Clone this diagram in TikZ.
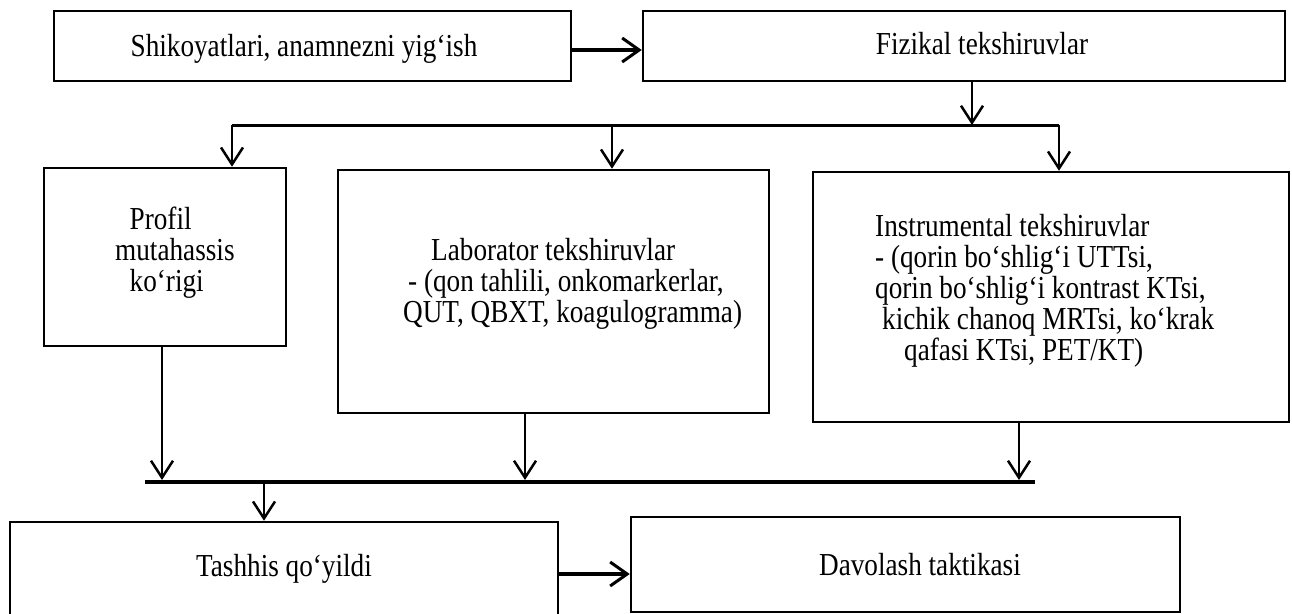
\documentclass[tikz,border=0pt]{standalone}
\usepackage{fontspec}
\setmainfont{Liberation Serif}[FakeStretch=0.85]
\usetikzlibrary{arrows.meta,calc}
\begin{document}
\begin{tikzpicture}[x=1pt,y=-1pt,
  box/.style={draw, line width=2.5pt, inner sep=0pt},
  txt/.style={inner sep=0pt, align=left, font=\fontsize{32}{31}\selectfont},
  arr/.style={line width=2.5pt, -{Straight Barb[length=17pt,width=22pt]}},
  harr/.style={line width=4.5pt, -{Straight Barb[length=17pt,width=24pt,line width=3pt]}},
  bar/.style={line width=3pt},
  thickbar/.style={line width=4.5pt}
]
\useasboundingbox (0,0) rectangle (1292,613);
\clip (0,0) rectangle (1292,613);

% boxes
\node[box, minimum width=517pt, minimum height=70pt] (b1) at (312.5,46) {};
\node[box, minimum width=642pt, minimum height=70pt] (b2) at (964,46) {};
\node[box, minimum width=242pt, minimum height=178pt] (prof) at (165,257) {};
\node[box, minimum width=431pt, minimum height=243pt] (lab) at (553.5,291.5) {};
\node[box, minimum width=476pt, minimum height=250pt] (instr) at (1051,297) {};
\node[box, minimum width=548pt, minimum height=96pt] (tash) at (284,570) {};
\node[box, minimum width=549pt, minimum height=95pt] (dav) at (905.5,564.5) {};

% texts
\node[txt, anchor=base] (tb1) at (304,56) {Shikoyatlari, anamnezni yig‘ish};
\node[txt, anchor=base] (tb2) at (982,54) {Fizikal tekshiruvlar};
\node[txt, anchor=west] (tprof) at (115,253) {\hspace*{14.5pt}Profil\\mutahassis\\\hspace*{14.5pt}ko‘rigi};
\node[txt, anchor=west] (tlab) at (403,284) {\hspace*{28pt}Laborator tekshiruvlar\\\hspace*{5pt}- (qon tahlili, onkomarkerlar,\\QUT, QBXT, koagulogramma)};
\node[txt, anchor=west] (tinstr) at (875,291) {Instrumental tekshiruvlar\\- (qorin bo‘shlig‘i UTTsi,\\qorin bo‘shlig‘i kontrast KTsi,\\\hspace*{7pt}kichik chanoq MRTsi, ko‘krak\\\hspace*{29pt}qafasi KTsi, PET/KT)};
\node[txt, anchor=base] (ttash) at (284,576) {Tashhis qo‘yildi};
\node[txt, anchor=base] (tdav) at (920,575) {Davolash taktikasi};

% junction coordinates
\coordinate (j1) at (972,125);
\coordinate (bl) at (232,125);
\coordinate (bm) at (612,125);
\coordinate (br) at (1059,125);
\coordinate (ml) at (145,482);
\coordinate (mr) at (1035,482);
\coordinate (m1) at (162,480);
\coordinate (m2) at (525,480);
\coordinate (m3) at (1019,480);
\coordinate (m0) at (264,482);
\coordinate (h1) at (571,50);
\coordinate (h2) at (558,574);

% connectors
\draw[harr] (h1) -- (b2.west |- h1);
\draw[arr] (b2.south -| j1) -- (j1);
\draw[bar] (bl) -- (br);
\draw[arr] (bl) -- (prof.north -| bl);
\draw[arr] (bm) -- (lab.north -| bm);
\draw[arr] (br) -- (instr.north -| br);
\draw[thickbar] (ml) -- (mr);
\draw[arr] (prof.south -| m1) -- (m1);
\draw[arr] (lab.south -| m2) -- (m2);
\draw[arr] (instr.south -| m3) -- (m3);
\draw[arr] (m0) -- (tash.north -| m0);
\draw[harr] (h2) -- (dav.west |- h2);
\end{tikzpicture}
\end{document}
